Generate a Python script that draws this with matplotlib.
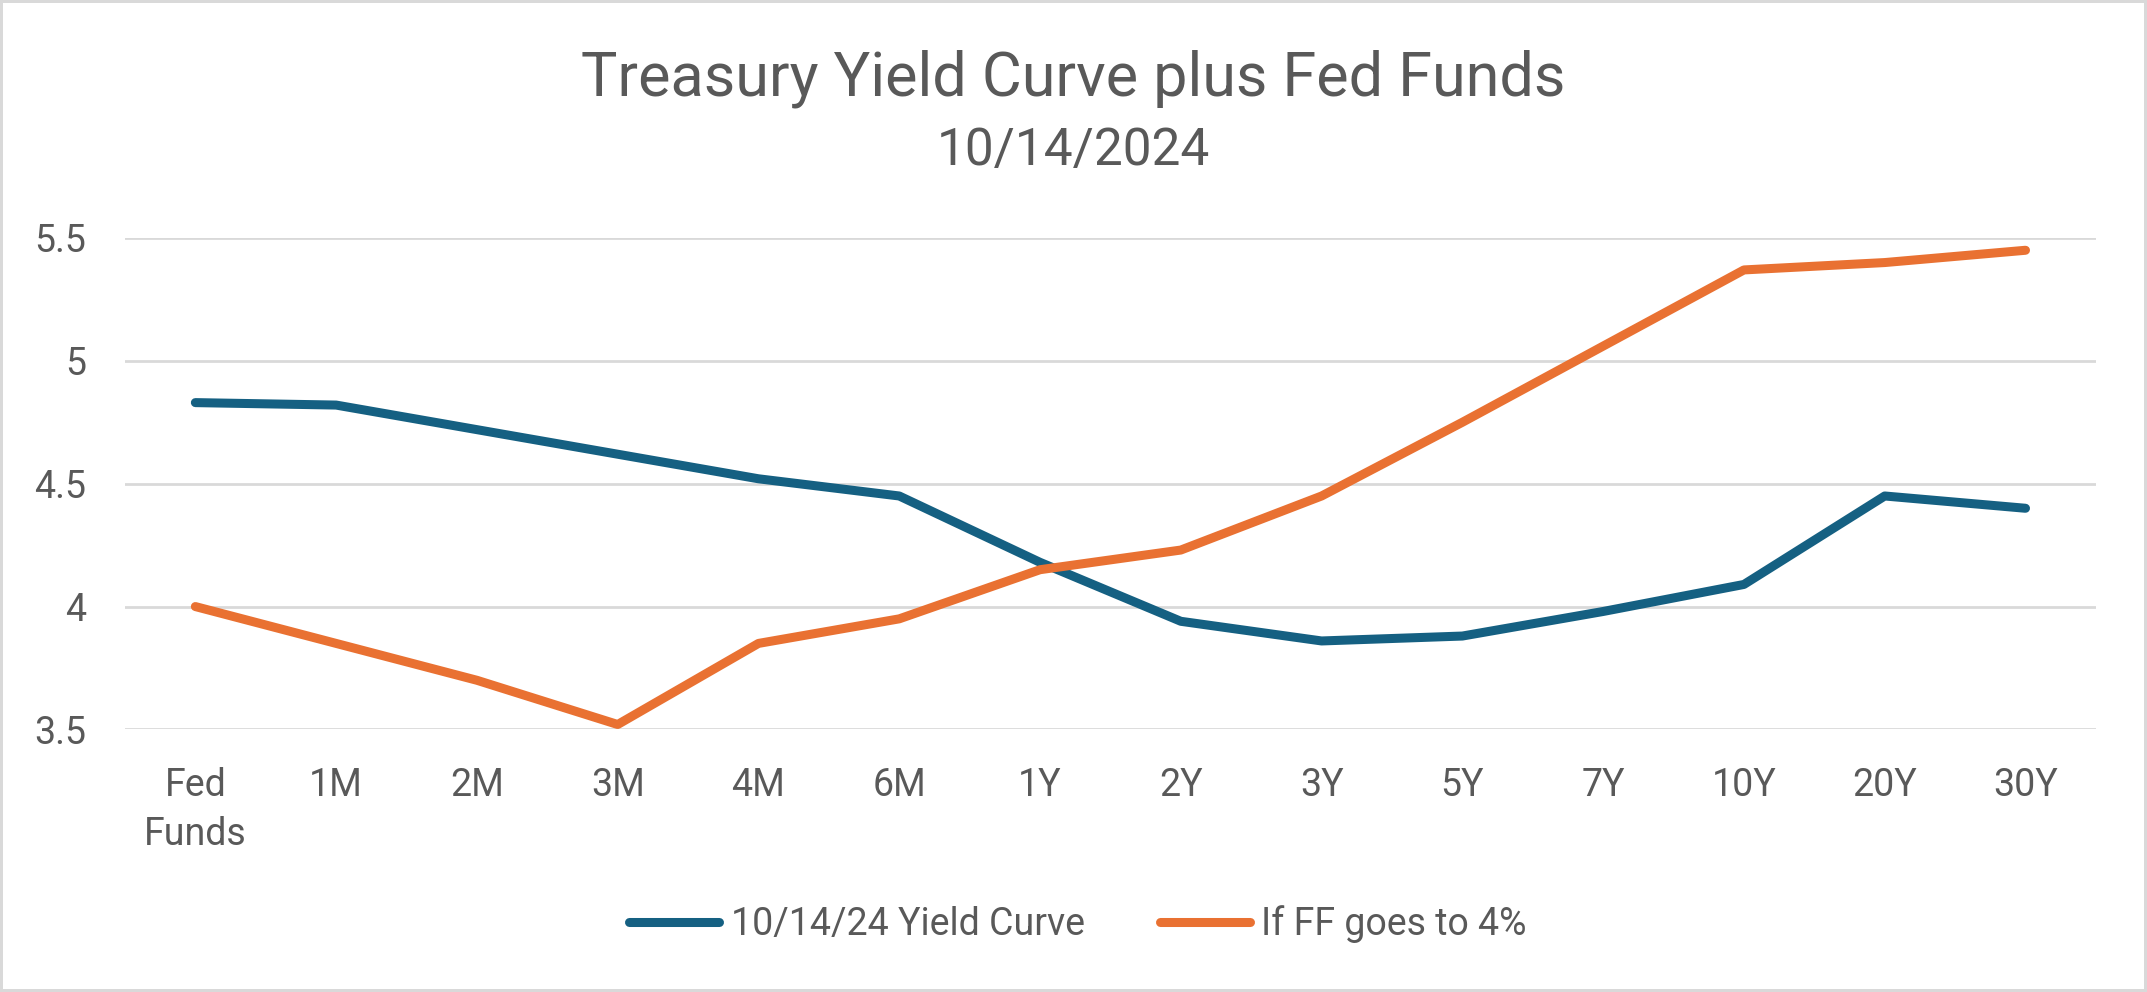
import matplotlib.pyplot as plt

plt.rcParams['font.family'] = ['Roboto', 'DejaVu Sans']

# maturities on the category axis
tenors = ['Fed\nFunds', '1M', '2M', '3M', '4M', '6M', '1Y', '2Y', '3Y', '5Y', '7Y', '10Y', '20Y', '30Y']

# yields
curve_1014 = [4.83, 4.82, 4.72, 4.62, 4.52, 4.45, 4.18, 3.94, 3.86, 3.88, 3.98, 4.09, 4.45, 4.40]
ff_to_4 = [4.00, 3.85, 3.70, 3.52, 3.85, 3.95, 4.15, 4.23, 4.45, 4.75, 5.06, 5.37, 5.40, 5.45]

yticks = [3.5, 4, 4.5, 5, 5.5]
ytick_labels = ['3.5', '4', '4.5', '5', '5.5']

blue = '#156082'
orange = '#E97132'
txt = '#595959'
grid = '#D9D9D9'

fig = plt.figure(figsize=(21.47, 9.92), dpi=100)
fig.patch.set_edgecolor(grid)
fig.patch.set_linewidth(3)

ax = fig.add_axes([0.0582, 0.2647, 0.918, 0.4954])
x = range(len(tenors))
ax.plot(x, curve_1014, color=blue, lw=6.5, solid_capstyle='round', solid_joinstyle='round',
        label='10/14/24 Yield Curve', zorder=3)
ax.plot(x, ff_to_4, color=orange, lw=6.5, solid_capstyle='round', solid_joinstyle='round',
        label='If FF goes to 4%', zorder=3)

ax.set_xlim(-0.5, len(tenors) - 0.5)
ax.set_ylim(3.5, 5.5)
ax.set_yticks(yticks)
ax.set_yticklabels(ytick_labels)
ax.set_xticks(list(x))
ax.set_xticklabels(tenors)
for lab in ax.get_xticklabels():
    lab.set_linespacing(1.4)
    lab.set_verticalalignment('top')

ax.tick_params(axis='both', length=0, labelsize=27, labelcolor=txt)
ax.tick_params(axis='x', pad=27)
ax.tick_params(axis='y', pad=28)
ax.grid(axis='y', color=grid, lw=2)
ax.set_axisbelow(True)
for s in ax.spines.values():
    s.set_visible(False)

fig.text(0.5, 0.904, 'Treasury Yield Curve plus Fed Funds', ha='center', va='baseline',
         fontsize=44, color=txt)
fig.text(0.5, 0.8337, '10/14/2024', ha='center', va='baseline', fontsize=37, color=txt)

leg = fig.legend(loc='center', bbox_to_anchor=(0.502, 0.0685), ncol=2, frameon=False,
                 fontsize=27, handlelength=2.4, handletextpad=0.3, columnspacing=2.0)
for t in leg.get_texts():
    t.set_color(txt)

fig.savefig('out.png', dpi=100)
